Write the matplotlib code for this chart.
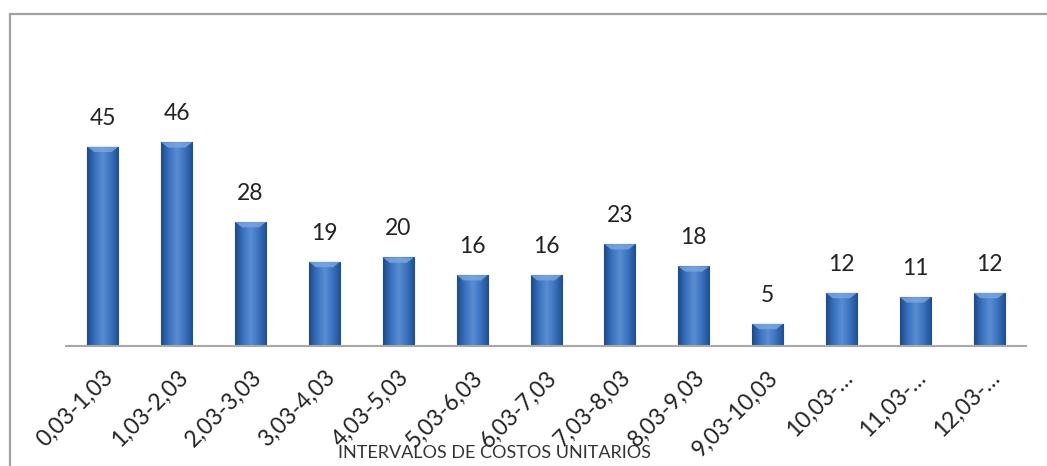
import numpy as np
import matplotlib.pyplot as plt
from matplotlib.lines import Line2D
from matplotlib.colors import LinearSegmentedColormap

plt.rcParams['font.family'] = ['Lato', 'DejaVu Sans']

intervalos = ['0,03-1,03', '1,03-2,03', '2,03-3,03', '3,03-4,03', '4,03-5,03',
              '5,03-6,03', '6,03-7,03', '7,03-8,03', '8,03-9,03', '9,03-10,03',
              '10,03-…', '11,03-…', '12,03-…']
frecuencia = [45, 46, 28, 19, 20, 16, 16, 23, 18, 5, 12, 11, 12]

fig = plt.figure(figsize=(10.47, 4.66), dpi=100)
ax = fig.add_axes([0.063, 0.2575, 0.917, 0.6996])

x = np.arange(len(intervalos))
bars = ax.bar(x, frecuencia, width=0.42, color='#2F63AE', edgecolor='#1E4C8C', linewidth=0.8)

# shaded fill across each bar (cylinder look)
shade = LinearSegmentedColormap.from_list(
    'shade', ['#1D4A8A', '#3A72BE', '#5A8ED3', '#3A72BE', '#1F4E90'])
grad = np.linspace(0, 1, 64).reshape(1, -1)
for b in bars:
    x0, w, h = b.get_x(), b.get_width(), b.get_height()
    im = ax.imshow(grad, cmap=shade, aspect='auto', extent=(x0, x0 + w, 0, h),
                   zorder=b.get_zorder() + 0.1, interpolation='bicubic')
    im.set_clip_path(b)
    # lighter bevel along the top edge
    ax.fill([x0, x0 + w, x0 + w * 0.78, x0 + w * 0.22],
            [h, h, h - 1.2, h - 1.2], color='#7FA8DE', alpha=0.8,
            zorder=b.get_zorder() + 0.2, linewidth=0)

for xi, v in zip(x, frecuencia):
    ax.annotate(str(v), (xi, v), xytext=(0, 13), textcoords='offset points',
                ha='center', va='bottom', fontsize=16.5, color='#222222')

ax.set_xlim(-0.5, len(intervalos) - 0.5)
ax.set_ylim(0, 73.6)
ax.set_xticks(x)
ax.set_xticklabels(intervalos, rotation=45, ha='right', va='top',
                   rotation_mode='anchor', fontsize=16.5, color='#222222')
ax.tick_params(axis='x', length=0, pad=15)
ax.set_yticks([])
for side in ['top', 'right', 'left']:
    ax.spines[side].set_visible(False)
ax.spines['bottom'].set_color('#A8A8A8')
ax.spines['bottom'].set_linewidth(1.5)

fig.text(495 / 1047, 5 / 466, 'INTERVALOS DE COSTOS UNITARIOS', ha='center',
         va='bottom', fontsize=13, color='#333333')

# outer chart border
fig.add_artist(Line2D([9.5 / 1047, 9.5 / 1047], [0, 1 - 14 / 466],
                      transform=fig.transFigure, color='#A0A0A4', linewidth=1.6))
fig.add_artist(Line2D([9.5 / 1047, 1], [1 - 14 / 466, 1 - 14 / 466],
                      transform=fig.transFigure, color='#A0A0A4', linewidth=1.6))

fig.savefig('out.png', dpi=100)
